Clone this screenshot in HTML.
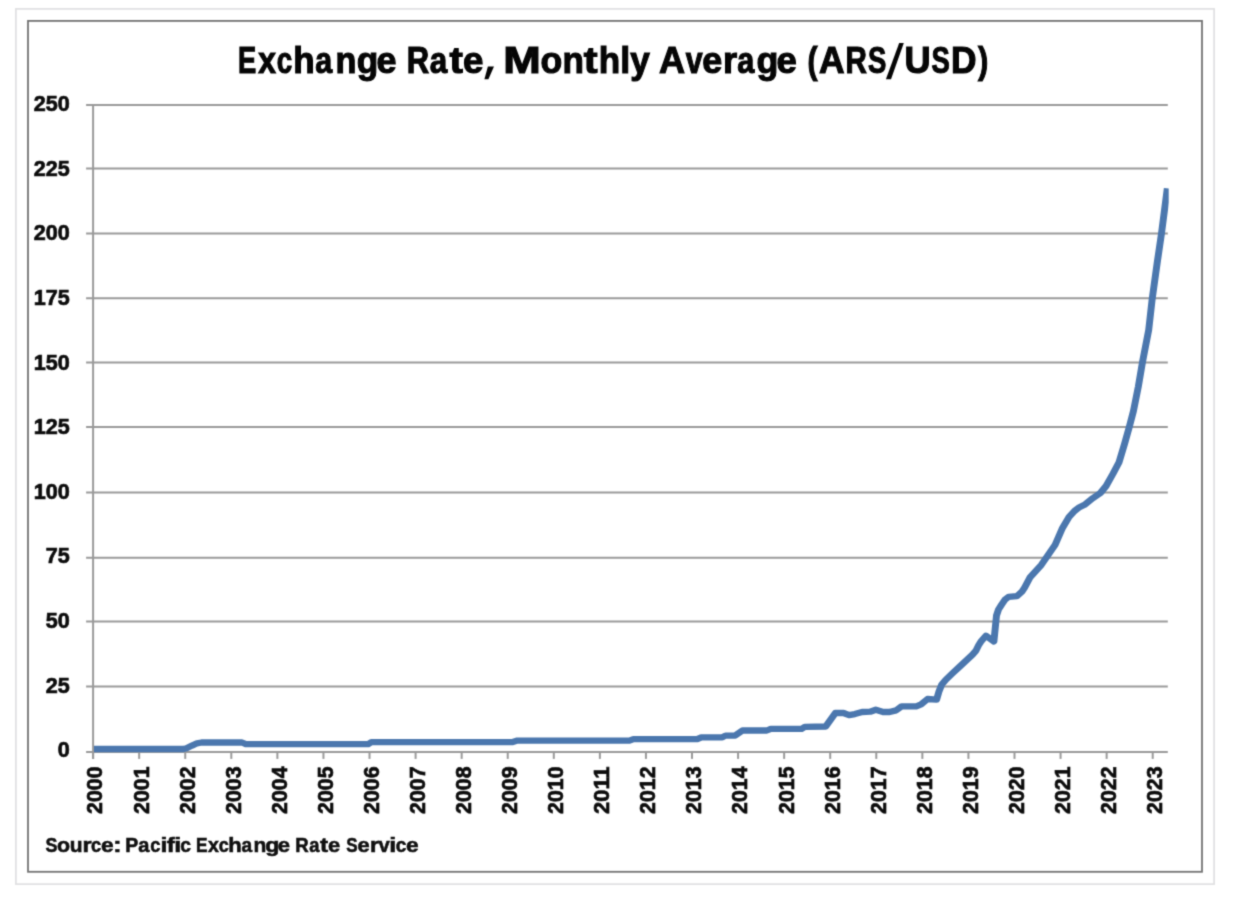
<!DOCTYPE html>
<html><head><meta charset="utf-8"><title>Exchange Rate</title>
<style>
html,body{margin:0;padding:0;background:#fff;}
svg{display:block;font-family:"Liberation Sans",sans-serif;font-weight:bold;}
</style></head><body>
<svg width="1236" height="898" viewBox="0 0 1236 898">
<defs><filter id="bl" x="0" y="0" width="1236" height="898" filterUnits="userSpaceOnUse" color-interpolation-filters="sRGB"><feConvolveMatrix order="3" kernelMatrix="0.0277 0.1110 0.0277 0.1110 0.4452 0.1110 0.0277 0.1110 0.0277" divisor="1" edgeMode="duplicate" preserveAlpha="true"/></filter></defs>
<g filter="url(#bl)">
<rect x="0" y="0" width="1236" height="898" fill="#ffffff"/>

<rect x="15.9" y="8.9" width="1198.2" height="875.2" fill="none" stroke="#e0e0e2" stroke-width="1.7"/>
<rect x="28.0" y="20.9" width="1174.0" height="850.9" fill="none" stroke="#747474" stroke-width="1.8"/>
<line x1="86.1" y1="104.9" x2="1167.8" y2="104.9" stroke="#9a9a9a" stroke-width="2.0"/>
<line x1="86.1" y1="168.4" x2="1167.8" y2="168.4" stroke="#9a9a9a" stroke-width="2.0"/>
<line x1="86.1" y1="233.5" x2="1167.8" y2="233.5" stroke="#9a9a9a" stroke-width="2.0"/>
<line x1="86.1" y1="298.3" x2="1167.8" y2="298.3" stroke="#9a9a9a" stroke-width="2.0"/>
<line x1="86.1" y1="362.5" x2="1167.8" y2="362.5" stroke="#9a9a9a" stroke-width="2.0"/>
<line x1="86.1" y1="427.0" x2="1167.8" y2="427.0" stroke="#9a9a9a" stroke-width="2.0"/>
<line x1="86.1" y1="492.5" x2="1167.8" y2="492.5" stroke="#9a9a9a" stroke-width="2.0"/>
<line x1="86.1" y1="557.7" x2="1167.8" y2="557.7" stroke="#9a9a9a" stroke-width="2.0"/>
<line x1="86.1" y1="621.6" x2="1167.8" y2="621.6" stroke="#9a9a9a" stroke-width="2.0"/>
<line x1="86.1" y1="686.6" x2="1167.8" y2="686.6" stroke="#9a9a9a" stroke-width="2.0"/>
<line x1="86.1" y1="751.9" x2="1167.8" y2="751.9" stroke="#9a9a9a" stroke-width="2.0"/>
<line x1="93.1" y1="104.0" x2="93.1" y2="758.9" stroke="#9a9a9a" stroke-width="2.0"/>
<line x1="93.10" y1="751.9" x2="93.10" y2="758.9" stroke="#9a9a9a" stroke-width="2.0"/>
<line x1="139.17" y1="751.9" x2="139.17" y2="758.9" stroke="#9a9a9a" stroke-width="2.0"/>
<line x1="185.24" y1="751.9" x2="185.24" y2="758.9" stroke="#9a9a9a" stroke-width="2.0"/>
<line x1="231.31" y1="751.9" x2="231.31" y2="758.9" stroke="#9a9a9a" stroke-width="2.0"/>
<line x1="277.38" y1="751.9" x2="277.38" y2="758.9" stroke="#9a9a9a" stroke-width="2.0"/>
<line x1="323.45" y1="751.9" x2="323.45" y2="758.9" stroke="#9a9a9a" stroke-width="2.0"/>
<line x1="369.52" y1="751.9" x2="369.52" y2="758.9" stroke="#9a9a9a" stroke-width="2.0"/>
<line x1="415.59" y1="751.9" x2="415.59" y2="758.9" stroke="#9a9a9a" stroke-width="2.0"/>
<line x1="461.66" y1="751.9" x2="461.66" y2="758.9" stroke="#9a9a9a" stroke-width="2.0"/>
<line x1="507.73" y1="751.9" x2="507.73" y2="758.9" stroke="#9a9a9a" stroke-width="2.0"/>
<line x1="553.80" y1="751.9" x2="553.80" y2="758.9" stroke="#9a9a9a" stroke-width="2.0"/>
<line x1="599.87" y1="751.9" x2="599.87" y2="758.9" stroke="#9a9a9a" stroke-width="2.0"/>
<line x1="645.94" y1="751.9" x2="645.94" y2="758.9" stroke="#9a9a9a" stroke-width="2.0"/>
<line x1="692.01" y1="751.9" x2="692.01" y2="758.9" stroke="#9a9a9a" stroke-width="2.0"/>
<line x1="738.08" y1="751.9" x2="738.08" y2="758.9" stroke="#9a9a9a" stroke-width="2.0"/>
<line x1="784.15" y1="751.9" x2="784.15" y2="758.9" stroke="#9a9a9a" stroke-width="2.0"/>
<line x1="830.22" y1="751.9" x2="830.22" y2="758.9" stroke="#9a9a9a" stroke-width="2.0"/>
<line x1="876.29" y1="751.9" x2="876.29" y2="758.9" stroke="#9a9a9a" stroke-width="2.0"/>
<line x1="922.36" y1="751.9" x2="922.36" y2="758.9" stroke="#9a9a9a" stroke-width="2.0"/>
<line x1="968.43" y1="751.9" x2="968.43" y2="758.9" stroke="#9a9a9a" stroke-width="2.0"/>
<line x1="1014.50" y1="751.9" x2="1014.50" y2="758.9" stroke="#9a9a9a" stroke-width="2.0"/>
<line x1="1060.57" y1="751.9" x2="1060.57" y2="758.9" stroke="#9a9a9a" stroke-width="2.0"/>
<line x1="1106.64" y1="751.9" x2="1106.64" y2="758.9" stroke="#9a9a9a" stroke-width="2.0"/>
<line x1="1152.71" y1="751.9" x2="1152.71" y2="758.9" stroke="#9a9a9a" stroke-width="2.0"/>
<text x="69.8" y="111.0" font-size="21.8" text-anchor="end" textLength="36.00" lengthAdjust="spacingAndGlyphs" fill="#0c0c0c" stroke="#0c0c0c" stroke-width="0.7">250</text>
<text x="69.8" y="175.6" font-size="21.8" text-anchor="end" textLength="36.00" lengthAdjust="spacingAndGlyphs" fill="#0c0c0c" stroke="#0c0c0c" stroke-width="0.7">225</text>
<text x="69.8" y="240.3" font-size="21.8" text-anchor="end" textLength="36.00" lengthAdjust="spacingAndGlyphs" fill="#0c0c0c" stroke="#0c0c0c" stroke-width="0.7">200</text>
<text x="69.8" y="304.9" font-size="21.8" text-anchor="end" textLength="36.00" lengthAdjust="spacingAndGlyphs" fill="#0c0c0c" stroke="#0c0c0c" stroke-width="0.7">175</text>
<text x="69.8" y="369.5" font-size="21.8" text-anchor="end" textLength="36.00" lengthAdjust="spacingAndGlyphs" fill="#0c0c0c" stroke="#0c0c0c" stroke-width="0.7">150</text>
<text x="69.8" y="434.1" font-size="21.8" text-anchor="end" textLength="36.00" lengthAdjust="spacingAndGlyphs" fill="#0c0c0c" stroke="#0c0c0c" stroke-width="0.7">125</text>
<text x="69.8" y="498.8" font-size="21.8" text-anchor="end" textLength="36.00" lengthAdjust="spacingAndGlyphs" fill="#0c0c0c" stroke="#0c0c0c" stroke-width="0.7">100</text>
<text x="69.8" y="563.4" font-size="21.8" text-anchor="end" textLength="24.00" lengthAdjust="spacingAndGlyphs" fill="#0c0c0c" stroke="#0c0c0c" stroke-width="0.7">75</text>
<text x="69.8" y="628.0" font-size="21.8" text-anchor="end" textLength="24.00" lengthAdjust="spacingAndGlyphs" fill="#0c0c0c" stroke="#0c0c0c" stroke-width="0.7">50</text>
<text x="69.8" y="692.7" font-size="21.8" text-anchor="end" textLength="24.00" lengthAdjust="spacingAndGlyphs" fill="#0c0c0c" stroke="#0c0c0c" stroke-width="0.7">25</text>
<text x="69.8" y="757.3" font-size="21.8" text-anchor="end" textLength="12.00" lengthAdjust="spacingAndGlyphs" fill="#0c0c0c" stroke="#0c0c0c" stroke-width="0.7">0</text>
<text transform="translate(102.45,813.9) rotate(-90)" font-size="21.8" textLength="47.4" lengthAdjust="spacingAndGlyphs" fill="#0c0c0c" stroke="#0c0c0c" stroke-width="0.7">2000</text>
<text transform="translate(148.52,813.9) rotate(-90)" font-size="21.8" textLength="47.4" lengthAdjust="spacingAndGlyphs" fill="#0c0c0c" stroke="#0c0c0c" stroke-width="0.7">2001</text>
<text transform="translate(194.59,813.9) rotate(-90)" font-size="21.8" textLength="47.4" lengthAdjust="spacingAndGlyphs" fill="#0c0c0c" stroke="#0c0c0c" stroke-width="0.7">2002</text>
<text transform="translate(240.66,813.9) rotate(-90)" font-size="21.8" textLength="47.4" lengthAdjust="spacingAndGlyphs" fill="#0c0c0c" stroke="#0c0c0c" stroke-width="0.7">2003</text>
<text transform="translate(286.73,813.9) rotate(-90)" font-size="21.8" textLength="47.4" lengthAdjust="spacingAndGlyphs" fill="#0c0c0c" stroke="#0c0c0c" stroke-width="0.7">2004</text>
<text transform="translate(332.80,813.9) rotate(-90)" font-size="21.8" textLength="47.4" lengthAdjust="spacingAndGlyphs" fill="#0c0c0c" stroke="#0c0c0c" stroke-width="0.7">2005</text>
<text transform="translate(378.87,813.9) rotate(-90)" font-size="21.8" textLength="47.4" lengthAdjust="spacingAndGlyphs" fill="#0c0c0c" stroke="#0c0c0c" stroke-width="0.7">2006</text>
<text transform="translate(424.94,813.9) rotate(-90)" font-size="21.8" textLength="47.4" lengthAdjust="spacingAndGlyphs" fill="#0c0c0c" stroke="#0c0c0c" stroke-width="0.7">2007</text>
<text transform="translate(471.01,813.9) rotate(-90)" font-size="21.8" textLength="47.4" lengthAdjust="spacingAndGlyphs" fill="#0c0c0c" stroke="#0c0c0c" stroke-width="0.7">2008</text>
<text transform="translate(517.08,813.9) rotate(-90)" font-size="21.8" textLength="47.4" lengthAdjust="spacingAndGlyphs" fill="#0c0c0c" stroke="#0c0c0c" stroke-width="0.7">2009</text>
<text transform="translate(563.15,813.9) rotate(-90)" font-size="21.8" textLength="47.4" lengthAdjust="spacingAndGlyphs" fill="#0c0c0c" stroke="#0c0c0c" stroke-width="0.7">2010</text>
<text transform="translate(609.22,813.9) rotate(-90)" font-size="21.8" textLength="47.4" lengthAdjust="spacingAndGlyphs" fill="#0c0c0c" stroke="#0c0c0c" stroke-width="0.7">2011</text>
<text transform="translate(655.29,813.9) rotate(-90)" font-size="21.8" textLength="47.4" lengthAdjust="spacingAndGlyphs" fill="#0c0c0c" stroke="#0c0c0c" stroke-width="0.7">2012</text>
<text transform="translate(701.36,813.9) rotate(-90)" font-size="21.8" textLength="47.4" lengthAdjust="spacingAndGlyphs" fill="#0c0c0c" stroke="#0c0c0c" stroke-width="0.7">2013</text>
<text transform="translate(747.43,813.9) rotate(-90)" font-size="21.8" textLength="47.4" lengthAdjust="spacingAndGlyphs" fill="#0c0c0c" stroke="#0c0c0c" stroke-width="0.7">2014</text>
<text transform="translate(793.50,813.9) rotate(-90)" font-size="21.8" textLength="47.4" lengthAdjust="spacingAndGlyphs" fill="#0c0c0c" stroke="#0c0c0c" stroke-width="0.7">2015</text>
<text transform="translate(839.57,813.9) rotate(-90)" font-size="21.8" textLength="47.4" lengthAdjust="spacingAndGlyphs" fill="#0c0c0c" stroke="#0c0c0c" stroke-width="0.7">2016</text>
<text transform="translate(885.64,813.9) rotate(-90)" font-size="21.8" textLength="47.4" lengthAdjust="spacingAndGlyphs" fill="#0c0c0c" stroke="#0c0c0c" stroke-width="0.7">2017</text>
<text transform="translate(931.71,813.9) rotate(-90)" font-size="21.8" textLength="47.4" lengthAdjust="spacingAndGlyphs" fill="#0c0c0c" stroke="#0c0c0c" stroke-width="0.7">2018</text>
<text transform="translate(977.78,813.9) rotate(-90)" font-size="21.8" textLength="47.4" lengthAdjust="spacingAndGlyphs" fill="#0c0c0c" stroke="#0c0c0c" stroke-width="0.7">2019</text>
<text transform="translate(1023.85,813.9) rotate(-90)" font-size="21.8" textLength="47.4" lengthAdjust="spacingAndGlyphs" fill="#0c0c0c" stroke="#0c0c0c" stroke-width="0.7">2020</text>
<text transform="translate(1069.92,813.9) rotate(-90)" font-size="21.8" textLength="47.4" lengthAdjust="spacingAndGlyphs" fill="#0c0c0c" stroke="#0c0c0c" stroke-width="0.7">2021</text>
<text transform="translate(1115.99,813.9) rotate(-90)" font-size="21.8" textLength="47.4" lengthAdjust="spacingAndGlyphs" fill="#0c0c0c" stroke="#0c0c0c" stroke-width="0.7">2022</text>
<text transform="translate(1162.06,813.9) rotate(-90)" font-size="21.8" textLength="47.4" lengthAdjust="spacingAndGlyphs" fill="#0c0c0c" stroke="#0c0c0c" stroke-width="0.7">2023</text>
<clipPath id="pc"><rect x="80" y="90" width="1088.7" height="680"/></clipPath>
<g clip-path="url(#pc)"><g transform="scale(1.1,1)"><path d="M85.45,749.0 L166.82,749.0 L169.55,748.3 L174.55,745.6 L179.09,743.3 L183.18,742.5 L220.00,742.5 L223.45,744.1 L334.73,744.1 L337.64,742.2 L465.45,742.2 L470.36,740.6 L572.18,740.6 L575.82,739.1 L633.82,739.1 L637.55,737.3 L656.64,737.3 L659.55,735.6 L668.36,735.6 L675.00,730.5 L697.09,730.5 L700.73,728.8 L728.73,728.8 L731.64,726.9 L750.64,726.5 L759.45,713.0 L766.82,713.0 L771.91,715.2 L777.09,714.1 L783.73,712.0 L791.09,711.7 L796.18,709.7 L802.82,712.0 L808.73,712.0 L814.64,710.4 L819.73,706.3 L833.00,706.3 L837.36,704.4 L843.27,699.0 L851.45,699.6 L853.64,691.4 L856.09,684.6 L859.73,679.8 L865.82,673.4 L871.82,667.2 L877.91,661.0 L884.00,654.7 L887.18,650.7 L889.64,645.3 L892.18,640.9 L896.36,635.8 L903.55,641.4 L905.91,615.5 L907.73,609.5 L910.55,604.6 L913.64,599.6 L916.91,596.8 L924.36,596.2 L928.91,591.8 L931.45,587.6 L936.27,577.6 L946.64,564.9 L959.18,544.8 L965.91,527.9 L971.82,517.0 L976.82,511.0 L981.36,507.2 L985.91,504.8 L993.45,498.2 L1000.36,493.0 L1005.55,486.0 L1011.73,473.9 L1017.27,462.3 L1022.45,443.4 L1026.55,427.3 L1030.36,411.3 L1034.82,386.7 L1038.64,362.1 L1044.27,330.0 L1047.45,298.9 L1051.91,263.5 L1055.91,233.4 L1061.18,188.3" fill="none" stroke="#4b77ae" stroke-width="6.3" stroke-linejoin="round" stroke-linecap="butt"/></g></g>
<text x="238.0" y="72.6" font-size="36.0" textLength="18.25" lengthAdjust="spacingAndGlyphs" fill="#050505" stroke="#050505" stroke-width="1.1">E</text>
<text x="258.28" y="72.6" font-size="36.0" textLength="17.66" lengthAdjust="spacingAndGlyphs" fill="#050505" stroke="#050505" stroke-width="1.1">x</text>
<text x="276.84" y="72.6" font-size="36.0" textLength="15.45" lengthAdjust="spacingAndGlyphs" fill="#050505" stroke="#050505" stroke-width="1.1">c</text>
<text x="293.37" y="72.6" font-size="36.0" textLength="21.42" lengthAdjust="spacingAndGlyphs" fill="#050505" stroke="#050505" stroke-width="1.1">h</text>
<text x="315.15" y="72.6" font-size="36.0" textLength="16.95" lengthAdjust="spacingAndGlyphs" fill="#050505" stroke="#050505" stroke-width="1.1">a</text>
<text x="335.62" y="72.6" font-size="36.0" textLength="20.91" lengthAdjust="spacingAndGlyphs" fill="#050505" stroke="#050505" stroke-width="1.1">n</text>
<text x="356.83" y="72.6" font-size="36.0" textLength="21.5" lengthAdjust="spacingAndGlyphs" fill="#050505" stroke="#050505" stroke-width="1.1">g</text>
<text x="376.6" y="72.6" font-size="36.0" textLength="19.97" lengthAdjust="spacingAndGlyphs" fill="#050505" stroke="#050505" stroke-width="1.1">e</text>
<text x="406.65" y="72.6" font-size="36.0" textLength="22.4" lengthAdjust="spacingAndGlyphs" fill="#050505" stroke="#050505" stroke-width="1.1">R</text>
<text x="429.73" y="72.6" font-size="36.0" textLength="17.47" lengthAdjust="spacingAndGlyphs" fill="#050505" stroke="#050505" stroke-width="1.1">a</text>
<text x="449.54" y="72.6" font-size="36.0" textLength="13.41" lengthAdjust="spacingAndGlyphs" fill="#050505" stroke="#050505" stroke-width="1.1">t</text>
<text x="463.07" y="72.6" font-size="36.0" textLength="20.43" lengthAdjust="spacingAndGlyphs" fill="#050505" stroke="#050505" stroke-width="1.1">e</text>
<text x="503.27" y="72.6" font-size="36.0" textLength="37.55" lengthAdjust="spacingAndGlyphs" fill="#050505" stroke="#050505" stroke-width="1.1">M</text>
<text x="540.52" y="72.6" font-size="36.0" textLength="21.76" lengthAdjust="spacingAndGlyphs" fill="#050505" stroke="#050505" stroke-width="1.1">o</text>
<text x="562.57" y="72.6" font-size="36.0" textLength="21.42" lengthAdjust="spacingAndGlyphs" fill="#050505" stroke="#050505" stroke-width="1.1">n</text>
<text x="583.82" y="72.6" font-size="36.0" textLength="13.84" lengthAdjust="spacingAndGlyphs" fill="#050505" stroke="#050505" stroke-width="1.1">t</text>
<text x="598.77" y="72.6" font-size="36.0" textLength="21.42" lengthAdjust="spacingAndGlyphs" fill="#050505" stroke="#050505" stroke-width="1.1">h</text>
<text x="620.2" y="72.6" font-size="36.0" textLength="10.0" lengthAdjust="spacingAndGlyphs" fill="#050505" stroke="#050505" stroke-width="1.1">l</text>
<text x="630.31" y="72.6" font-size="36.0" textLength="19.56" lengthAdjust="spacingAndGlyphs" fill="#050505" stroke="#050505" stroke-width="1.1">y</text>
<text x="658.9" y="72.6" font-size="36.0" textLength="26.11" lengthAdjust="spacingAndGlyphs" fill="#050505" stroke="#050505" stroke-width="1.1">A</text>
<text x="685.79" y="72.6" font-size="36.0" textLength="16.84" lengthAdjust="spacingAndGlyphs" fill="#050505" stroke="#050505" stroke-width="1.1">v</text>
<text x="702.3" y="72.6" font-size="36.0" textLength="19.97" lengthAdjust="spacingAndGlyphs" fill="#050505" stroke="#050505" stroke-width="1.1">e</text>
<text x="723.08" y="72.6" font-size="36.0" textLength="14.14" lengthAdjust="spacingAndGlyphs" fill="#050505" stroke="#050505" stroke-width="1.1">r</text>
<text x="737.25" y="72.6" font-size="36.0" textLength="17.06" lengthAdjust="spacingAndGlyphs" fill="#050505" stroke="#050505" stroke-width="1.1">a</text>
<text x="756.51" y="72.6" font-size="36.0" textLength="21.87" lengthAdjust="spacingAndGlyphs" fill="#050505" stroke="#050505" stroke-width="1.1">g</text>
<text x="776.58" y="72.6" font-size="36.0" textLength="20.31" lengthAdjust="spacingAndGlyphs" fill="#050505" stroke="#050505" stroke-width="1.1">e</text>
<text x="807.53" y="72.6" font-size="36.0" textLength="10.07" lengthAdjust="spacingAndGlyphs" fill="#050505" stroke="#050505" stroke-width="1.1">(</text>
<text x="819.12" y="72.6" font-size="36.0" textLength="25.57" lengthAdjust="spacingAndGlyphs" fill="#050505" stroke="#050505" stroke-width="1.1">A</text>
<text x="845.55" y="72.6" font-size="36.0" textLength="21.37" lengthAdjust="spacingAndGlyphs" fill="#050505" stroke="#050505" stroke-width="1.1">R</text>
<text x="868.04" y="72.6" font-size="36.0" textLength="18.32" lengthAdjust="spacingAndGlyphs" fill="#050505" stroke="#050505" stroke-width="1.1">S</text>
<text x="904.54" y="72.6" font-size="36.0" textLength="26.12" lengthAdjust="spacingAndGlyphs" fill="#050505" stroke="#050505" stroke-width="1.1">U</text>
<text x="931.54" y="72.6" font-size="36.0" textLength="18.32" lengthAdjust="spacingAndGlyphs" fill="#050505" stroke="#050505" stroke-width="1.1">S</text>
<text x="951.05" y="72.6" font-size="36.0" textLength="25.53" lengthAdjust="spacingAndGlyphs" fill="#050505" stroke="#050505" stroke-width="1.1">D</text>
<text x="978.1" y="72.6" font-size="36.0" textLength="10.29" lengthAdjust="spacingAndGlyphs" fill="#050505" stroke="#050505" stroke-width="1.1">)</text>
<polygon points="487.9,66.6 494.0,66.6 488.4,79.3 484.4,79.3" fill="#050505"/>
<polygon points="899.2,42.9 903.8,42.9 891.0,79.2 885.9,79.2" fill="#050505"/>
<text x="45.43" y="851.8" font-size="20.8" textLength="11.92" lengthAdjust="spacingAndGlyphs" fill="#101010" stroke="#101010" stroke-width="0.6">S</text>
<text x="56.94" y="851.8" font-size="20.8" textLength="13.05" lengthAdjust="spacingAndGlyphs" fill="#101010" stroke="#101010" stroke-width="0.6">o</text>
<text x="69.75" y="851.8" font-size="20.8" textLength="12.83" lengthAdjust="spacingAndGlyphs" fill="#101010" stroke="#101010" stroke-width="0.6">u</text>
<text x="82.6" y="851.8" font-size="20.8" textLength="9.09" lengthAdjust="spacingAndGlyphs" fill="#101010" stroke="#101010" stroke-width="0.6">r</text>
<text x="91.07" y="851.8" font-size="20.8" textLength="10.13" lengthAdjust="spacingAndGlyphs" fill="#101010" stroke="#101010" stroke-width="0.6">c</text>
<text x="100.99" y="851.8" font-size="20.8" textLength="12.61" lengthAdjust="spacingAndGlyphs" fill="#101010" stroke="#101010" stroke-width="0.6">e</text>
<text x="113.25" y="851.8" font-size="20.8" textLength="8.31" lengthAdjust="spacingAndGlyphs" fill="#101010" stroke="#101010" stroke-width="0.6">:</text>
<text x="125.25" y="851.8" font-size="20.8" textLength="13.02" lengthAdjust="spacingAndGlyphs" fill="#101010" stroke="#101010" stroke-width="0.6">P</text>
<text x="138.16" y="851.8" font-size="20.8" textLength="11.15" lengthAdjust="spacingAndGlyphs" fill="#101010" stroke="#101010" stroke-width="0.6">a</text>
<text x="150.27" y="851.8" font-size="20.8" textLength="10.13" lengthAdjust="spacingAndGlyphs" fill="#101010" stroke="#101010" stroke-width="0.6">c</text>
<text x="160.45" y="851.8" font-size="20.8" textLength="6.94" lengthAdjust="spacingAndGlyphs" fill="#101010" stroke="#101010" stroke-width="0.6">i</text>
<text x="166.82" y="851.8" font-size="20.8" textLength="8.0" lengthAdjust="spacingAndGlyphs" fill="#101010" stroke="#101010" stroke-width="0.6">f</text>
<text x="174.2" y="851.8" font-size="20.8" textLength="6.94" lengthAdjust="spacingAndGlyphs" fill="#101010" stroke="#101010" stroke-width="0.6">i</text>
<text x="180.13" y="851.8" font-size="20.8" textLength="10.7" lengthAdjust="spacingAndGlyphs" fill="#101010" stroke="#101010" stroke-width="0.6">c</text>
<text x="195.99" y="851.8" font-size="20.8" textLength="11.54" lengthAdjust="spacingAndGlyphs" fill="#101010" stroke="#101010" stroke-width="0.6">E</text>
<text x="207.94" y="851.8" font-size="20.8" textLength="10.88" lengthAdjust="spacingAndGlyphs" fill="#101010" stroke="#101010" stroke-width="0.6">x</text>
<text x="218.68" y="851.8" font-size="20.8" textLength="10.01" lengthAdjust="spacingAndGlyphs" fill="#101010" stroke="#101010" stroke-width="0.6">c</text>
<text x="228.21" y="851.8" font-size="20.8" textLength="13.44" lengthAdjust="spacingAndGlyphs" fill="#101010" stroke="#101010" stroke-width="0.6">h</text>
<text x="241.59" y="851.8" font-size="20.8" textLength="10.62" lengthAdjust="spacingAndGlyphs" fill="#101010" stroke="#101010" stroke-width="0.6">a</text>
<text x="253.45" y="851.8" font-size="20.8" textLength="12.83" lengthAdjust="spacingAndGlyphs" fill="#101010" stroke="#101010" stroke-width="0.6">n</text>
<text x="265.17" y="851.8" font-size="20.8" textLength="14.16" lengthAdjust="spacingAndGlyphs" fill="#101010" stroke="#101010" stroke-width="0.6">g</text>
<text x="277.72" y="851.8" font-size="20.8" textLength="12.26" lengthAdjust="spacingAndGlyphs" fill="#101010" stroke="#101010" stroke-width="0.6">e</text>
<text x="295.21" y="851.8" font-size="20.8" textLength="13.46" lengthAdjust="spacingAndGlyphs" fill="#101010" stroke="#101010" stroke-width="0.6">R</text>
<text x="309.21" y="851.8" font-size="20.8" textLength="10.2" lengthAdjust="spacingAndGlyphs" fill="#101010" stroke="#101010" stroke-width="0.6">a</text>
<text x="319.91" y="851.8" font-size="20.8" textLength="8.09" lengthAdjust="spacingAndGlyphs" fill="#101010" stroke="#101010" stroke-width="0.6">t</text>
<text x="328.02" y="851.8" font-size="20.8" textLength="12.15" lengthAdjust="spacingAndGlyphs" fill="#101010" stroke="#101010" stroke-width="0.6">e</text>
<text x="346.15" y="851.8" font-size="20.8" textLength="11.36" lengthAdjust="spacingAndGlyphs" fill="#101010" stroke="#101010" stroke-width="0.6">S</text>
<text x="357.52" y="851.8" font-size="20.8" textLength="12.15" lengthAdjust="spacingAndGlyphs" fill="#101010" stroke="#101010" stroke-width="0.6">e</text>
<text x="369.92" y="851.8" font-size="20.8" textLength="8.97" lengthAdjust="spacingAndGlyphs" fill="#101010" stroke="#101010" stroke-width="0.6">r</text>
<text x="378.44" y="851.8" font-size="20.8" textLength="11.23" lengthAdjust="spacingAndGlyphs" fill="#101010" stroke="#101010" stroke-width="0.6">v</text>
<text x="389.3" y="851.8" font-size="20.8" textLength="6.94" lengthAdjust="spacingAndGlyphs" fill="#101010" stroke="#101010" stroke-width="0.6">i</text>
<text x="395.64" y="851.8" font-size="20.8" textLength="10.58" lengthAdjust="spacingAndGlyphs" fill="#101010" stroke="#101010" stroke-width="0.6">c</text>
<text x="406.09" y="851.8" font-size="20.8" textLength="12.61" lengthAdjust="spacingAndGlyphs" fill="#101010" stroke="#101010" stroke-width="0.6">e</text>
</g></svg></body></html>
